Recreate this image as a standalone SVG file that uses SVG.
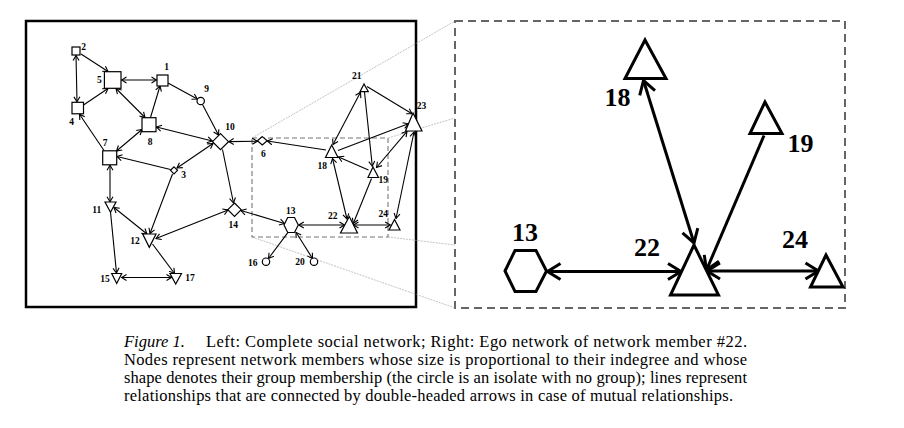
<svg xmlns="http://www.w3.org/2000/svg" width="904" height="428" viewBox="0 0 904 428">
<style>
.sh{fill:#fff;stroke:#000;stroke-width:1.2}
.shR{fill:#fff;stroke:#000;stroke-width:3;stroke-linejoin:miter}
.lb{font-family:"Liberation Serif","Times New Roman",serif;font-weight:bold;font-size:9.5px;fill:#000;text-anchor:middle}
.lbR{font-family:"Liberation Serif","Times New Roman",serif;font-weight:bold;font-size:26px;fill:#000;text-anchor:middle}
.e{stroke:#000;stroke-width:1.1;fill:none}
.s{marker-end:url(#aL)}
.d{marker-start:url(#aL);marker-end:url(#aL)}
.eR{stroke:#000;stroke-width:3;fill:none}
.sR{marker-end:url(#aR)}
.dR{marker-start:url(#aR);marker-end:url(#aR)}
.zoom{stroke:#999;stroke-width:0.6;fill:none;stroke-dasharray:2 1}
.cap{font-family:"Liberation Serif","Times New Roman",serif;font-size:16.5px;fill:#000}
</style>
<defs>
<marker id="aL" viewBox="-7 -4 8 8" refX="0" refY="0" markerWidth="8" markerHeight="8" markerUnits="userSpaceOnUse" orient="auto-start-reverse"><path d="M-5,-3 L0,0 L-5,3" fill="none" stroke="#000" stroke-width="1.1"/></marker>
<marker id="aR" viewBox="-16 -11 20 22" refX="0" refY="0" markerWidth="20" markerHeight="22" markerUnits="userSpaceOnUse" orient="auto-start-reverse"><path d="M-13,-8 L0,0 L-13,8" fill="none" stroke="#000" stroke-width="3"/></marker>
</defs>
<rect width="904" height="428" fill="#fff"/>

<g id="frames">
<rect x="26" y="21" width="390" height="286" fill="none" stroke="#000" stroke-width="2.5"/>
<rect x="252" y="138" width="136" height="99" fill="none" stroke="#777" stroke-width="1.1" stroke-dasharray="5 3"/>
<rect x="455" y="21" width="390" height="287" fill="none" stroke="#666" stroke-width="2" stroke-dasharray="8 5"/>
<line class="zoom" x1="252" y1="138" x2="455" y2="21"/>
<line class="zoom" x1="388" y1="138" x2="455" y2="118"/>
<line class="zoom" x1="252" y1="237" x2="455" y2="308"/>
<line class="zoom" x1="388" y1="237" x2="455" y2="245"/>
</g>

<g id="connectors">
<line class="e s" x1="81" y1="54" x2="108" y2="71.5"/>
<line class="e d" x1="76" y1="55.5" x2="77" y2="101.8"/>
<line class="e s" x1="83.5" y1="105" x2="108" y2="88.5"/>
<line class="e d" x1="121.5" y1="80" x2="156.5" y2="80"/>
<line class="e d" x1="116" y1="88.5" x2="145" y2="117.5"/>
<line class="e s" x1="150.5" y1="117.5" x2="160" y2="86"/>
<line class="e s" x1="168" y1="83" x2="197.3" y2="99"/>
<line class="e s" x1="202.5" y1="104.5" x2="218.5" y2="135"/>
<line class="e d" x1="156.5" y1="127" x2="212.3" y2="141"/>
<line class="e d" x1="116.5" y1="151" x2="142" y2="129.5"/>
<line class="e s" x1="104" y1="150.5" x2="79.5" y2="114.2"/>
<line class="e s" x1="170.5" y1="169.5" x2="117" y2="156.5"/>
<line class="e d" x1="177" y1="168" x2="213" y2="143.5"/>
<line class="e s" x1="172.5" y1="174" x2="150" y2="233.5"/>
<line class="e d" x1="110" y1="165.3" x2="110" y2="201.8"/>
<line class="e d" x1="114" y1="207.5" x2="147" y2="234"/>
<line class="e s" x1="110.5" y1="212" x2="116.5" y2="273"/>
<line class="e s" x1="152.5" y1="244" x2="174.5" y2="273.5"/>
<line class="e d" x1="121.5" y1="277.5" x2="171.5" y2="277.5"/>
<line class="e d" x1="156" y1="238.5" x2="228" y2="210"/>
<line class="e s" x1="222.5" y1="149.5" x2="233.5" y2="203"/>
<line class="e d" x1="257.3" y1="141.2" x2="228.7" y2="141.6"/>
<line class="e s" x1="326" y1="150" x2="267.3" y2="141"/>
<line class="e d" x1="360.5" y1="92.3" x2="333" y2="144.5"/>
<line class="e s" x1="367" y1="86.5" x2="412" y2="113.8"/>
<line class="e s" x1="364.5" y1="92" x2="372.3" y2="166.3"/>
<line class="e s" x1="338" y1="150.5" x2="408.3" y2="123.8"/>
<line class="e d" x1="376.5" y1="167.5" x2="407" y2="131.3"/>
<line class="e s" x1="368.5" y1="170" x2="338.5" y2="157"/>
<line class="e d" x1="332.5" y1="158.5" x2="347" y2="219"/>
<line class="e s" x1="371.5" y1="178.5" x2="353.3" y2="223.5"/>
<line class="e d" x1="353.5" y1="225" x2="390.2" y2="225"/>
<line class="e d" x1="414" y1="132" x2="396" y2="218.5"/>
<line class="e d" x1="298.8" y1="225" x2="344.5" y2="225"/>
<line class="e d" x1="241" y1="210.5" x2="284.5" y2="223.5"/>
<line class="e s" x1="288" y1="232.3" x2="268.5" y2="258.5"/>
<line class="e d" x1="296" y1="232.3" x2="312.5" y2="258.5"/>

<line class="eR dR" x1="547.5" y1="271.5" x2="681" y2="271.5"/>
<line class="eR dR" x1="707" y1="271" x2="818.5" y2="271"/>
<line class="eR dR" x1="643.5" y1="80.5" x2="694" y2="243"/>
<line class="eR sR" x1="764" y1="135.5" x2="706.5" y2="270"/>
</g>

<g id="n1"><rect class="sh" x="157" y="75" width="11" height="11"/><text class="lb" x="166.5" y="70">1</text></g>
<g id="n2"><rect class="sh" x="72" y="47" width="8" height="8"/><text class="lb" x="83.5" y="50">2</text></g>
<g id="n3"><polygon class="sh" points="174,166.8 177.5,170.3 174,173.8 170.5,170.3"/><text class="lb" x="183.5" y="178">3</text></g>
<g id="n4"><rect class="sh" x="72" y="102.3" width="11.5" height="11.5"/><text class="lb" x="71.5" y="125">4</text></g>
<g id="n5"><rect class="sh" x="104.4" y="71.7" width="16.6" height="16.6"/><text class="lb" x="99.3" y="83">5</text></g>
<g id="n6"><polygon class="sh" points="262.3,136.6 267.2,140.8 262.3,145 257.4,140.8"/><text class="lb" x="263.3" y="157">6</text></g>
<g id="n7"><rect class="sh" x="102.7" y="150.8" width="14" height="14"/><text class="lb" x="105" y="146">7</text></g>
<g id="n8"><rect class="sh" x="142" y="117.7" width="14" height="14"/><text class="lb" x="150" y="145">8</text></g>
<g id="n9"><circle class="sh" cx="200.7" cy="101" r="3.7"/><text class="lb" x="206.7" y="92">9</text></g>
<g id="n10"><polygon class="sh" points="220.5,133.7 228.5,141.7 220.5,149.7 212.5,141.7"/><text class="lb" x="230" y="130">10</text></g>
<g id="n11"><polygon class="sh" points="105,202 116,202 110.5,212.3"/><text class="lb" x="96.7" y="213">11</text></g>
<g id="n12"><polygon class="sh" points="142.7,234 156,234 149.3,247.3"/><text class="lb" x="135" y="244">12</text></g>
<g id="n13"><polygon class="sh" points="284,225 287.7,217.5 294.5,217.5 298.3,225 294.5,232.5 287.7,232.5"/><text class="lb" x="290.7" y="214">13</text></g>
<g id="n14"><polygon class="sh" points="234.5,203 241.2,209.7 234.5,216.4 227.8,209.7"/><text class="lb" x="233.3" y="228">14</text></g>
<g id="n15"><polygon class="sh" points="111.7,273.5 121.7,273.5 116.7,283.5"/><text class="lb" x="105" y="282">15</text></g>
<g id="n16"><circle class="sh" cx="266" cy="261.7" r="3.7"/><text class="lb" x="252.7" y="265.5">16</text></g>
<g id="n17"><polygon class="sh" points="170,273.5 181.5,273.5 175.7,284"/><text class="lb" x="190" y="281">17</text></g>
<g id="n18"><polygon class="sh" points="331.7,145 325.5,157.5 338,157.5"/><text class="lb" x="322.3" y="169">18</text></g>
<g id="n19"><polygon class="sh" points="373,167 368,177.5 378.5,177.5"/><text class="lb" x="383.3" y="183">19</text></g>
<g id="n20"><circle class="sh" cx="314" cy="261.7" r="3.7"/><text class="lb" x="300" y="265">20</text></g>
<g id="n21"><polygon class="sh" points="364,84 360,91.7 368.3,91.7"/><text class="lb" x="356.7" y="79">21</text></g>
<g id="n22"><polygon class="sh" points="349.3,216.5 340.5,233 357.5,233"/><text class="lb" x="332.7" y="219">22</text></g>
<g id="n23"><polygon class="sh" points="413,113 405.5,131 422,131"/><text class="lb" x="421.5" y="109">23</text></g>
<g id="n24"><polygon class="sh" points="394.5,219.5 389,230 400,230"/><text class="lb" x="383.3" y="217">24</text></g>

<g id="r13"><polygon class="shR" points="505,271 515,250.5 536,250.5 546.5,271 536,291.5 515,291.5"/><text class="lbR" x="525" y="241">13</text></g>
<g id="r18"><polygon class="shR" points="645,40 625,78.5 666,78.5"/><text class="lbR" x="617.5" y="106">18</text></g>
<g id="r19"><polygon class="shR" points="765,102 750,133.5 782,133.5"/><text class="lbR" x="800.5" y="152">19</text></g>
<g id="r22"><polygon class="shR" points="694,245 670.5,295 718.5,295"/><text class="lbR" x="647" y="256">22</text></g>
<g id="r24"><polygon class="shR" points="826,255 810.5,287 843,287"/><text class="lbR" x="795" y="248">24</text></g>

<g id="caption">
<text class="cap" x="124" y="346.5" font-style="italic">Figure 1.</text>
<text class="cap" x="206" y="346.5" textLength="541" lengthAdjust="spacing">Left: Complete social network; Right: Ego network of network member #22.</text>
<text class="cap" x="124" y="364.5" textLength="623" lengthAdjust="spacing">Nodes represent network members whose size is proportional to their indegree and whose</text>
<text class="cap" x="124" y="382.5" textLength="623" lengthAdjust="spacing">shape denotes their group membership (the circle is an isolate with no group); lines represent</text>
<text class="cap" x="124" y="400.5" textLength="609" lengthAdjust="spacing">relationships that are connected by double-headed arrows in case of mutual relationships.</text>
</g>
</svg>
